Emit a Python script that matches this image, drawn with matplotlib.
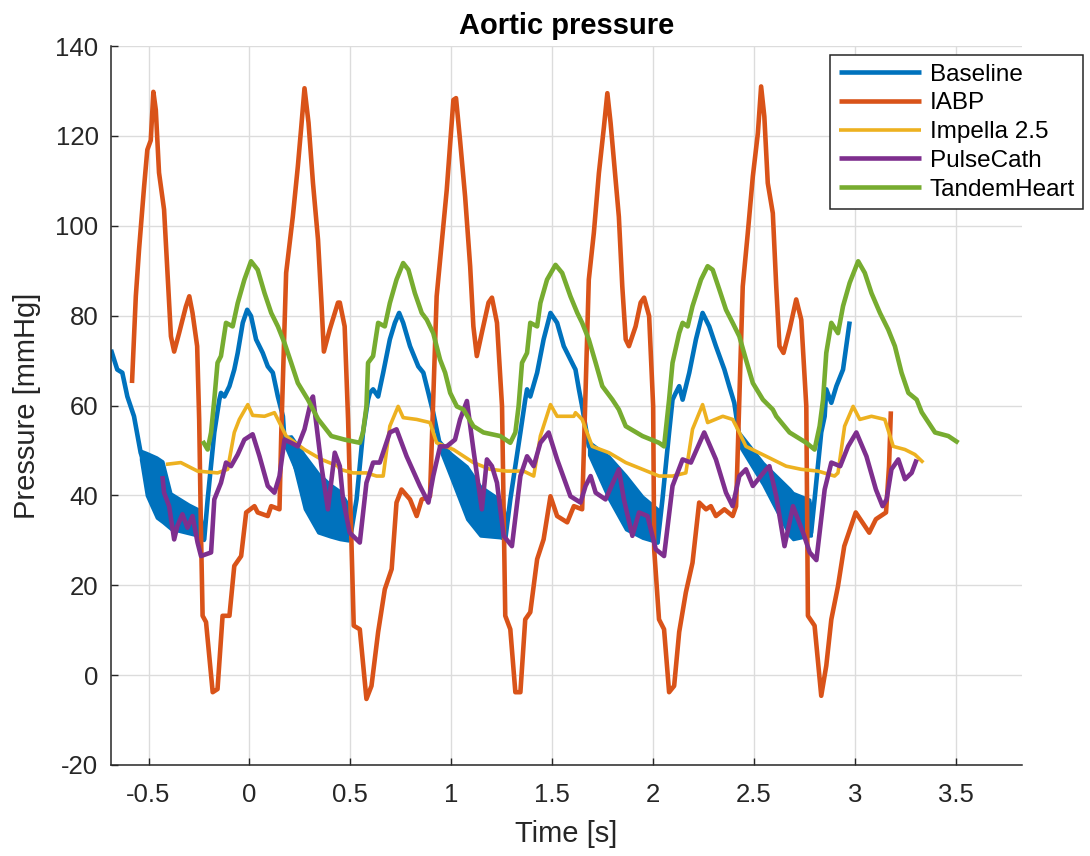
import numpy as np
import matplotlib
matplotlib.use("Agg")
import matplotlib.pyplot as plt

# ---------------- data ----------------
labels = ["Baseline", "IABP", "Impella 2.5", "PulseCath", "TandemHeart"]
colors = ["#0072BD", "#D95319", "#EDB120", "#7E2F8E", "#77AC30"]

baseline_t = [-0.686, -0.655, -0.630, -0.605, -0.572, -0.539, -0.48, -0.40, -0.30, -0.224,
              -0.207, -0.174, -0.149, -0.141, -0.124, -0.099, -0.075, -0.058, -0.033, -0.011,
              0.008, 0.033, 0.066, 0.091, 0.116, 0.141, 0.166, 0.174, 0.25, 0.34, 0.44, 0.498,
              0.531, 0.563, 0.588, 0.597, 0.613, 0.638, 0.663, 0.696, 0.721, 0.742, 0.762, 0.796,
              0.837, 0.862, 0.887, 0.911, 0.945, 1.0, 1.1, 1.2, 1.268,
              1.293, 1.343, 1.367, 1.376, 1.392, 1.426, 1.458, 1.492, 1.525, 1.558, 1.608, 1.616,
              1.633, 1.649, 1.682, 1.78, 1.87, 1.95, 2.023,
              2.047, 2.080, 2.097, 2.113, 2.130, 2.147, 2.180, 2.213, 2.246, 2.279, 2.312, 2.354,
              2.378, 2.403, 2.428, 2.55, 2.68, 2.784,
              2.801, 2.834, 2.851, 2.859, 2.884, 2.909, 2.942, 2.975]
baseline_p = [72.4, 68, 67.3, 62, 57.6, 49.5, 42, 37, 34.5, 30.2,
              39.1, 54, 61.3, 62.8, 62, 64.3, 68, 71.7, 78.4, 81.3,
              79.9, 74.7, 71.7, 68.7, 67.3, 62, 57.6, 52, 44, 38, 35, 30.2,
              39.1, 54, 61.3, 62.8, 63.6, 62, 67.3, 74.7, 78.4, 80.6, 78.4, 73.2,
              68.7, 67.3, 62.8, 58.4, 51, 47, 40, 35.5, 30.2,
              39.1, 54, 61.3, 63.6, 62, 67.3, 74.7, 80.6, 78.4, 73.2, 68.7, 68,
              63.6, 59.8, 51, 44, 38, 34, 29.5,
              39.1, 54, 61.3, 62.8, 64.3, 61.3, 67.3, 74.7, 80.6, 77.6, 73.2, 68,
              64.3, 60.6, 53, 45, 36, 31.7,
              39.1, 54, 57.6, 63.6, 60.6, 64.3, 68, 78.7]

# high-frequency (noisy) parts of the baseline trace: time, lower and upper envelope
band1_t = [-0.539, -0.51, -0.46, -0.43, -0.39, -0.30, -0.256, -0.226]
band1_lo = [48, 40, 35, 34, 32.5, 31.5, 31, 30]
band1_hi = [50, 49.5, 48.5, 47.6, 40.5, 38, 37, 33]
band2_t = [0.174, 0.207, 0.273, 0.34, 0.40, 0.448, 0.49]
band2_lo = [51, 49, 37, 31.7, 30.8, 30.2, 29.9]
band2_hi = [53, 53.2, 49, 45, 42.5, 41, 38]
band3_t = [0.945, 0.995, 1.078, 1.144, 1.243, 1.268]
band3_lo = [50, 44.3, 34.7, 31, 30.6, 30.2]
band3_hi = [52, 49.5, 46.5, 42.1, 39.1, 36]
band4_t = [1.682, 1.782, 1.865, 1.948, 2.023]
band4_lo = [49, 39.1, 32.4, 30.5, 29.5]
band4_hi = [52, 48.7, 44.5, 39.8, 37]
band5_t = [2.428, 2.545, 2.677, 2.694, 2.776, 2.784]
band5_lo = [51, 42.4, 31, 30.2, 31, 31]
band5_hi = [54, 47.3, 41.5, 40.6, 39.1, 37]

iabp_t = [-0.582, -0.563, -0.547, -0.522, -0.506, -0.489, -0.476, -0.464, -0.448, -0.423,
          -0.406, -0.389, -0.373, -0.348, -0.315, -0.298, -0.282, -0.259, -0.249, -0.240,
          -0.232, -0.215, -0.182, -0.158, -0.133, -0.099, -0.075, -0.041, -0.016, 0.025,
          0.041, 0.091, 0.108, 0.149, 0.158, 0.182, 0.215, 0.240, 0.257, 0.273,
          0.293, 0.315, 0.340, 0.357, 0.369, 0.398, 0.439, 0.448, 0.472, 0.489,
          0.517, 0.547, 0.580, 0.605, 0.638, 0.671, 0.705, 0.729, 0.754, 0.796,
          0.829, 0.854, 0.895, 0.928, 0.953, 0.978, 0.995, 1.011, 1.024, 1.044,
          1.069, 1.094, 1.110, 1.127, 1.152, 1.185, 1.202, 1.227, 1.252, 1.268,
          1.293, 1.318, 1.343, 1.367, 1.392, 1.426, 1.458, 1.492, 1.525, 1.575,
          1.608, 1.649, 1.682, 1.707, 1.732, 1.757, 1.774, 1.790, 1.815, 1.831,
          1.848, 1.865, 1.881, 1.914, 1.939, 1.956, 1.981, 2.001, 2.006, 2.030,
          2.055, 2.080, 2.105, 2.130, 2.163, 2.196, 2.229, 2.263, 2.287, 2.312,
          2.354, 2.395, 2.412, 2.445, 2.470, 2.495, 2.520, 2.536, 2.552, 2.569,
          2.594, 2.611, 2.627, 2.647, 2.677, 2.710, 2.735, 2.760, 2.768, 2.801,
          2.834, 2.859, 2.884, 2.917, 2.948, 3.005, 3.038, 3.072, 3.105, 3.155,
          3.170, 3.179]
iabp_p = [65, 84.3, 94.7, 108.7, 116.9, 119, 129.8, 125.8, 111.8, 103.6,
          89.5, 75.4, 72, 76.2, 82, 84.3, 80.6, 73.2, 56.9, 31.7,
          13.2, 11.8, -3.8, -3.1, 13.2, 13.2, 24.3, 26.5, 36.2, 37.6,
          36.2, 35.4, 37.6, 36.9, 54, 89.5, 102, 113.2, 122, 130.6,
          122.9, 109.5, 96.9, 82.9, 72, 76.9, 82.9, 82.9, 77.6, 56.9,
          11, 10.2, -5.3, -2.4, 9.6, 19.1, 23.6, 38.4, 41.3, 39.1,
          35.4, 39.1, 39.8, 84.3, 96.2, 108, 118.4, 128, 128.4, 119,
          106.5, 91, 77.6, 71, 76.2, 82.9, 84, 78.4, 59.8, 13.2,
          10.2, -3.8, -3.8, 12.4, 14, 25.8, 30.2, 39.8, 35.4, 34,
          37.6, 36.9, 88, 98.4, 111.7, 122, 129.5, 122.9, 110.2, 102,
          86.5, 74.7, 73.2, 77.6, 82.9, 84, 79.9, 59.8, 28, 12.4,
          10.2, -3.8, -2.4, 9.6, 18.4, 25, 38.4, 36.9, 37.6, 35.4,
          36.9, 35.4, 37.6, 86.5, 98.4, 111, 120.6, 131, 124.3, 109.5,
          102.8, 86.5, 73.2, 71.7, 76.9, 83.6, 79.1, 59.8, 13.2, 11,
          -4.6, 2.1, 12.4, 19.8, 28.7, 36.2, 34, 31.7, 34.7, 36.2,
          46.5, 58.7]

impella_t = [-0.414, -0.340, -0.257, -0.158, -0.108, -0.075, -0.050, -0.008, 0.016, 0.075,
             0.124, 0.141, 0.182, 0.273, 0.357, 0.439, 0.448, 0.514, 0.580, 0.630,
             0.663, 0.696, 0.737, 0.762, 0.829, 0.895, 0.928, 1.011, 1.110, 1.193,
             1.276, 1.359, 1.409, 1.442, 1.492, 1.525, 1.608, 1.616, 1.649, 1.699,
             1.782, 1.865, 1.948, 2.030, 2.097, 2.163, 2.196, 2.246, 2.271, 2.346,
             2.395, 2.428, 2.461, 2.561, 2.660, 2.735, 2.818, 2.900, 2.917, 2.950,
             2.992, 3.025, 3.083, 3.149, 3.191, 3.249, 3.298, 3.340]
impella_p = [46.9, 47.3, 45.4, 45, 45.8, 54, 56.9, 60.2, 57.8, 57.6,
             58.4, 56.9, 53.2, 50.2, 48, 46.5, 45.8, 45, 45, 44.3,
             44.3, 55.4, 59.8, 57.3, 56.9, 56.2, 51.7, 50.2, 47.3, 45.8,
             45.4, 45.4, 44.3, 53.2, 60.2, 57.6, 57.6, 58.4, 56.9, 50.9,
             49.5, 47.3, 45.8, 44.3, 44.3, 45, 54.7, 60.2, 56.2, 57.6,
             56.9, 54, 50.9, 48.7, 46.5, 45.8, 45.4, 44.3, 45, 55.4,
             59.8, 56.9, 57.6, 56.9, 50.9, 50.2, 49.1, 47.3]

pulse_t = [-0.431, -0.423, -0.398, -0.373, -0.357, -0.332, -0.307, -0.282, -0.257, -0.240,
           -0.190, -0.174, -0.141, -0.116, -0.091, -0.058, -0.025, 0.016, 0.050, 0.091,
           0.124, 0.149, 0.174, 0.207, 0.240, 0.273, 0.307, 0.315, 0.357, 0.389,
           0.423, 0.448, 0.464, 0.497, 0.547, 0.580, 0.613, 0.646, 0.696, 0.729,
           0.779, 0.845, 0.887, 0.911, 0.945, 0.978, 1.019, 1.044, 1.078, 1.110,
           1.152, 1.177, 1.202, 1.227, 1.260, 1.301, 1.343, 1.376, 1.409, 1.442,
           1.483, 1.525, 1.591, 1.641, 1.666, 1.691, 1.716, 1.765, 1.831, 1.856,
           1.898, 1.931, 1.973, 2.014, 2.055, 2.097, 2.147, 2.188, 2.254, 2.312,
           2.362, 2.395, 2.428, 2.461, 2.495, 2.561, 2.577, 2.611, 2.652, 2.694,
           2.744, 2.777, 2.810, 2.851, 2.884, 2.928, 2.967, 3.008, 3.058, 3.105,
           3.138, 3.158, 3.182, 3.216, 3.249, 3.282, 3.307]
pulse_p = [44.3, 40.6, 37.6, 30.2, 33.2, 35.8, 32.8, 35.4, 29.5, 26.5,
           27.3, 39.1, 42.8, 47.3, 46.5, 49.1, 52.4, 53.6, 48.7, 42.1,
           40.6, 44.3, 52.4, 51.7, 50.9, 54.7, 61.3, 62, 46.5, 36.9,
           49.5, 46.5, 39.1, 31.7, 29.5, 42.8, 47.3, 47.3, 54, 54.7,
           48.7, 42.1, 38.4, 44.3, 50.9, 50.9, 52.4, 56.9, 61, 50.2,
           36.9, 48, 46.5, 42.8, 31, 28.7, 44.3, 48.7, 46.5, 51.7,
           54, 48, 39.8, 38.4, 42.1, 44.3, 40.6, 39.1, 45.8, 39.1,
           31, 36.2, 35.4, 28, 26.5, 42.1, 48, 47.3, 54, 48,
           40.6, 37.6, 44.3, 45.8, 42.1, 45.8, 46.5, 39.8, 28.7, 37.6,
           31.7, 27.3, 25.6, 41.3, 47.3, 46.5, 50.9, 54, 48.7, 41.3,
           37.6, 39.1, 45.8, 48, 43.6, 45, 48]

tandem_t = [-0.232, -0.207, -0.190, -0.174, -0.158, -0.141, -0.116, -0.083, -0.058, -0.025,
            0.008, 0.041, 0.075, 0.108, 0.141, 0.174, 0.207, 0.240, 0.290, 0.340,
            0.406, 0.472, 0.547, 0.563, 0.580, 0.588, 0.613, 0.638, 0.671, 0.696,
            0.729, 0.762, 0.788, 0.820, 0.854, 0.879, 0.911, 0.945, 0.970, 0.995,
            1.028, 1.061, 1.110, 1.160, 1.243, 1.293, 1.318, 1.334, 1.351, 1.376,
            1.392, 1.426, 1.442, 1.475, 1.517, 1.550, 1.591, 1.625, 1.649, 1.682,
            1.716, 1.749, 1.799, 1.831, 1.865, 1.948, 2.030, 2.055, 2.080, 2.097,
            2.130, 2.147, 2.172, 2.196, 2.238, 2.271, 2.296, 2.329, 2.362, 2.395,
            2.428, 2.461, 2.495, 2.545, 2.594, 2.611, 2.677, 2.760, 2.801, 2.826,
            2.843, 2.859, 2.884, 2.917, 2.942, 2.975, 3.017, 3.050, 3.083, 3.125,
            3.166, 3.199, 3.232, 3.266, 3.307, 3.332, 3.398, 3.464, 3.514]
tandem_p = [52.1, 50.2, 54, 61.3, 69.5, 71, 78.4, 77.6, 82.8, 88,
            92.1, 90.2, 85, 80.6, 77.6, 73.9, 69.5, 65, 61.3, 57,
            53.2, 52.4, 51.7, 54, 59.8, 69.5, 71, 78.4, 77.6, 82.8,
            88, 91.7, 90.2, 85, 80.6, 79.1, 76.1, 70.2, 67.3, 62.8,
            59.8, 59.1, 55.4, 54, 53.2, 51.7, 54, 59.8, 69.5, 71.7,
            78.4, 77.6, 82.8, 88, 91.3, 89.5, 84.3, 80.6, 78.4, 74.7,
            69.5, 64.3, 61.3, 59.1, 55.4, 53.2, 51.7, 50.9, 61.3, 69.5,
            76.1, 78.4, 77.6, 82.1, 88, 91, 90.2, 85.8, 81.3, 78.4,
            75.4, 70.2, 65, 61.3, 59.1, 57.6, 54, 51.7, 50.2, 55.4,
            61.3, 71.7, 78.4, 76.1, 82.1, 87.3, 92.1, 89.5, 85, 80.6,
            76.9, 73.2, 67.3, 62.8, 61.3, 58.5, 54, 53.2, 51.7]

x_ticks = [-0.5, 0, 0.5, 1, 1.5, 2, 2.5, 3, 3.5]
x_tick_labels = ["-0.5", "0", "0.5", "1", "1.5", "2", "2.5", "3", "3.5"]
y_ticks = [-20, 0, 20, 40, 60, 80, 100, 120, 140]
y_tick_labels = ["-20", "0", "20", "40", "60", "80", "100", "120", "140"]

# ---------------- figure ----------------
plt.rcParams["font.family"] = ["Liberation Sans", "DejaVu Sans"]
plt.rcParams["axes.unicode_minus"] = False

W, H = 1090, 856
fig = plt.figure(figsize=(W / 100, H / 100), dpi=100)
ax = fig.add_axes([111 / W, 1 - 765 / H, (1022 - 111) / W, (765 - 46) / H])

dark = "#262626"
lw = 3.3

bands = [(band1_t, band1_lo, band1_hi), (band2_t, band2_lo, band2_hi),
         (band3_t, band3_lo, band3_hi), (band4_t, band4_lo, band4_hi),
         (band5_t, band5_lo, band5_hi)]
for bt, blo, bhi in bands:
    ax.fill_between(bt, blo, bhi, color=colors[0], linewidth=2.0, edgecolor=colors[0], zorder=2)

series = [(baseline_t, baseline_p), (iabp_t, iabp_p), (impella_t, impella_p),
          (pulse_t, pulse_p), (tandem_t, tandem_p)]
handles = []
for i, ((t, p), lab, col) in enumerate(zip(series, labels, colors)):
    w = 2.6 if lab == "Impella 2.5" else lw
    h, = ax.plot(t, p, color=col, lw=w, label=lab, zorder=2 + i * 0.1,
                 solid_joinstyle="round", solid_capstyle="butt")
    handles.append(h)

ax.set_xlim(-0.686, 3.829)
ax.set_ylim(-20, 140)
ax.set_xticks(x_ticks)
ax.set_xticklabels(x_tick_labels)
ax.set_yticks(y_ticks)
ax.set_yticklabels(y_tick_labels)

ax.grid(True, color="#dcdcdc", lw=1.0)
ax.set_axisbelow(True)
for s in ["top", "right"]:
    ax.spines[s].set_visible(False)
for s in ["left", "bottom"]:
    ax.spines[s].set_color(dark)
    ax.spines[s].set_linewidth(1.1)

ax.tick_params(axis="both", direction="in", length=5, width=1.0, color=dark,
               labelcolor=dark, labelsize=18.5)
ax.tick_params(axis="x", pad=13)
ax.tick_params(axis="y", pad=9)

ax.set_xlabel("Time [s]", fontsize=21, color=dark, labelpad=9)
ax.set_ylabel("Pressure [mmHg]", fontsize=21, color=dark, labelpad=10)
ax.set_title("Aortic pressure", fontsize=21, fontweight="bold", color="black", pad=9)

leg = fig.legend(handles=handles, labels=labels, loc="upper left",
                 bbox_to_anchor=(830 / W, 1 - 55 / H), borderaxespad=0,
                 fontsize=17.5, frameon=True, fancybox=False, framealpha=1,
                 edgecolor=dark, handlelength=3.4, handletextpad=0.35,
                 labelspacing=0.28, borderpad=0.35)
leg.get_frame().set_linewidth(1.1)

fig.savefig("out.png", dpi=100)
